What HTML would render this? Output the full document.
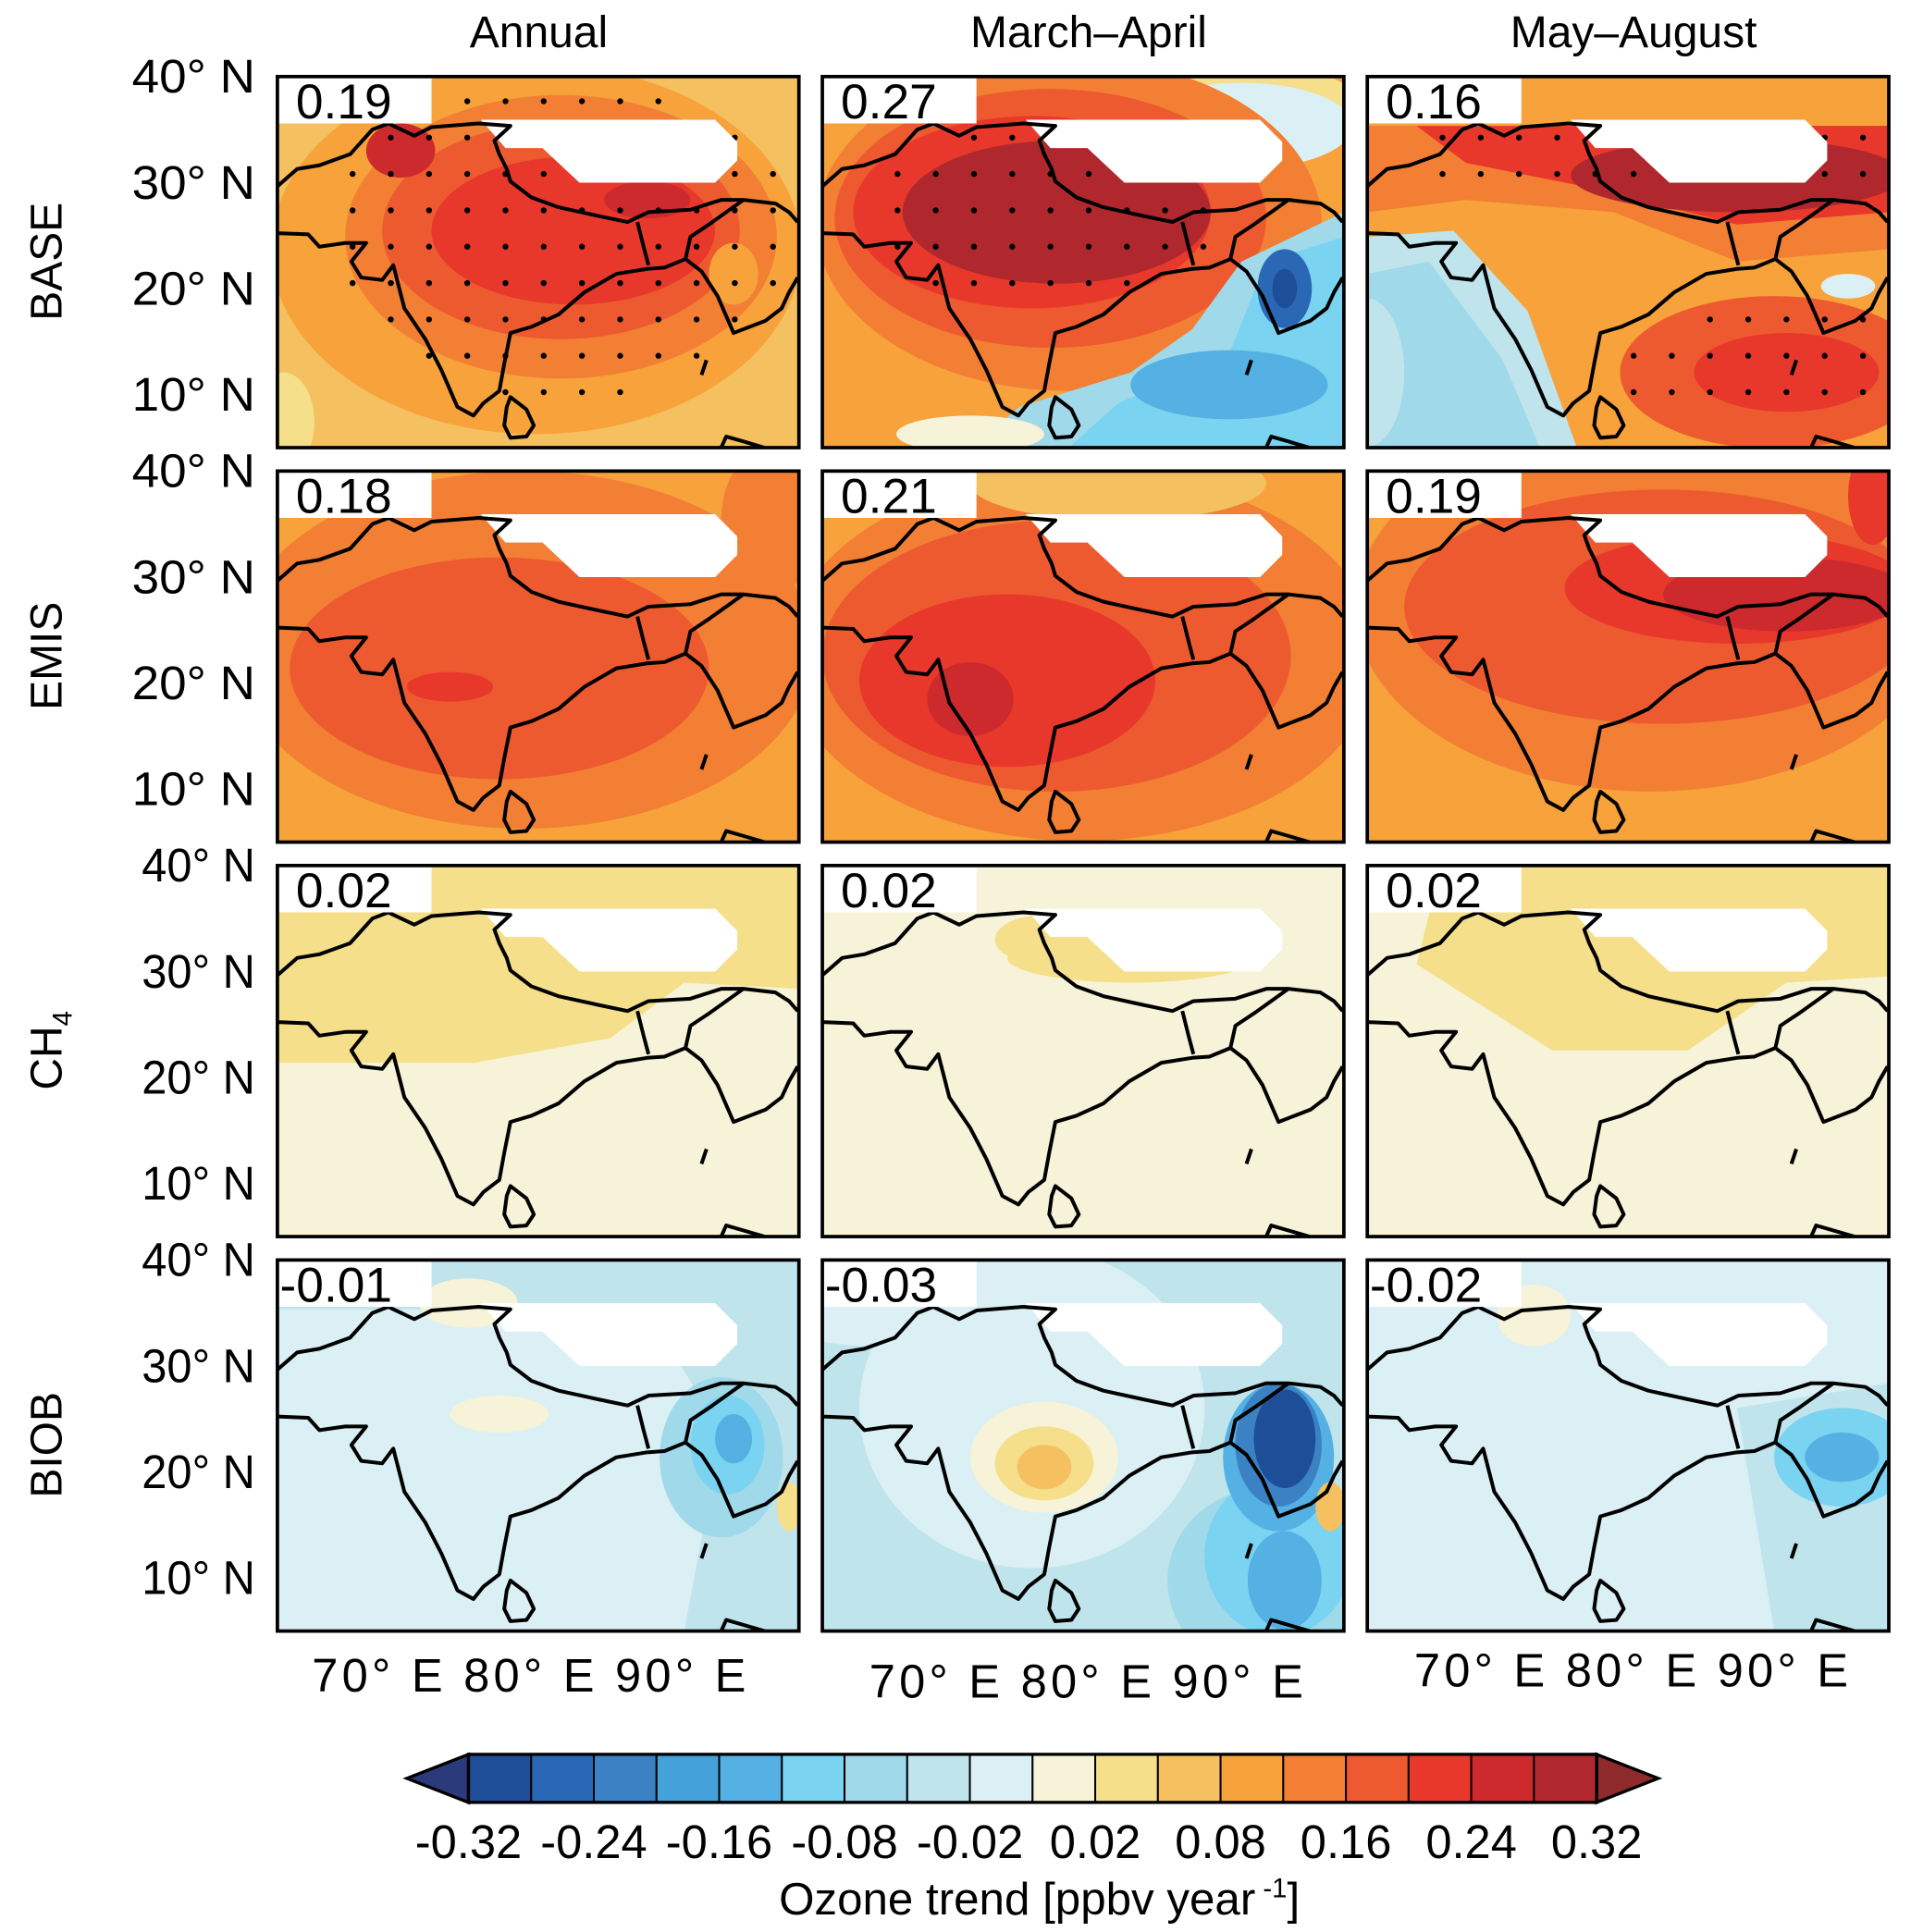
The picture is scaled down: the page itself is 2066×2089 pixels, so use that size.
<!DOCTYPE html>
<html><head><meta charset="utf-8"><style>
html,body{margin:0;padding:0;background:#fff;}
svg{display:block;font-family:"Liberation Sans",Arial,sans-serif;}
</style></head><body>
<svg id="fig" width="2066" height="2089" viewBox="0 0 1550 1567" xmlns="http://www.w3.org/2000/svg">
<defs>
<clipPath id="pc"><rect x="0" y="0" width="423" height="301"/></clipPath>
<g id="coast" fill="none" stroke="#000" stroke-width="3" stroke-linejoin="round">
<path d="M0,89 L16,75 L34,72 L59,63 L77,43 L90,38 L111,48 L125,41 L163,38 L189,40 L176,52 L180,63 L186,75 L189,85 L206,98 L228,106 L260,113 L284,118 L301,110 L335,108 L360,100 L378,100 L404,103 L415,110 L422,118"/>
<path d="M0,127 L25,128 L34,138 L55,135 L72,135 L60,150 L68,163 L85,165 L94,153 L103,188 L120,213 L133,238 L146,268 L159,275 L167,265 L180,255 L184,233 L189,208 L206,203 L228,193 L249,175 L275,160 L300,156 L314,155 L331,148 L344,158 L357,178 L370,208 L396,198 L409,188 L415,175 L422,163"/>
<path d="M292,118 L297,138 L301,153"/>
<path d="M331,148 L335,130 L350,120 L378,100"/>
<path d="M189,260 L202,270 L208,283 L202,292 L189,293 L184,283 L186,268 Z"/>
<path d="M348,230 L344,242"/>
<path d="M360,301 L364,292 L378,296 L395,301"/>
</g>
<path id="maskpoly" d="M165,35 L355,35 L373,53 L373,68 L355,86 L245,86 L215,58 L185,58 Z" fill="#fff"/>
</defs>
<g id="root"></g>
</svg>
<script>
const svg=document.getElementById('root');
const NS='http://www.w3.org/2000/svg';
function el(t,a,p){const e=document.createElementNS(NS,t);for(const k in a)e.setAttribute(k,a[k]);(p||svg).appendChild(e);return e;}
const colX=[225,667,1109];
const rowY=[62,382,702,1022];
const colTitles=['Annual','March–April','May–August'];
const rowTitles=['BASE','EMIS','CH4','BIOB'];
const values=[['0.19','0.27','0.16'],['0.18','0.21','0.19'],['0.02','0.02','0.02'],['-0.01','-0.03','-0.02']];
const cbColors=['#1f4e99','#2a68b5','#3a82c4','#45a1d9','#55b0e3','#7ad3f0','#9fd9ea','#bfe4ec','#daf0f4','#f7f3d8','#f5df8a','#f5c060','#f7a23a','#f27f33','#ee5a2f','#e8382b','#cc2a2d','#b0282e'];
const cbTicks=['-0.32','-0.24','-0.16','-0.08','-0.02','0.02','0.08','0.16','0.24','0.32'];
const fields=[
[{b:'#f5c060',s:[['e',210,140,215,150,'#f7a23a'],['e',230,130,175,115,'#f27f33'],['e',230,125,145,88,'#ee5a2f'],['e',240,125,115,60,'#e8382b'],['e',100,60,28,22,'#cc2a2d'],['e',300,100,35,15,'#cc2a2d'],['e',5,280,25,40,'#f5df8a'],['e',370,160,20,25,'#f7a23a']]},
 {b:'#f7a23a',s:[['e',330,30,110,45,'#f5df8a'],['e',340,40,90,35,'#daf0f4'],['e',200,120,205,135,'#f27f33'],['e',185,115,175,105,'#ee5a2f'],['e',170,110,145,78,'#e8382b'],['e',190,110,125,58,'#b0282e'],['p','120,301 160,268 250,240 300,205 340,150 423,110 423,301','#9fd9ea'],['p','200,301 240,265 330,225 360,150 423,130 423,301','#7ad3f0'],['e',330,250,80,28,'#55b0e3'],['e',375,172,22,32,'#2a68b5'],['e',375,172,10,16,'#1f4e99'],['e',120,290,60,15,'#f7f3d8']]},
 {b:'#f7a23a',s:[['p','0,40 230,40 423,60 423,140 300,150 200,110 80,100 0,110','#f27f33'],['p','40,40 423,40 423,110 300,120 180,90 80,70','#e8382b'],['e',300,80,135,30,'#b0282e'],['p','0,130 70,125 130,190 170,301 0,301','#bfe4ec'],['p','0,160 50,150 110,230 140,301 0,301','#9fd9ea'],['e',0,240,30,60,'#bfe4ec'],['e',330,240,125,62,'#ee5a2f'],['e',340,240,75,32,'#e8382b'],['e',390,170,22,10,'#daf0f4'],['e',10,10,30,20,'#f5c060']]}],
[{b:'#f7a23a',s:[['e',200,145,235,145,'#f27f33'],['e',180,160,170,90,'#ee5a2f'],['e',140,175,35,12,'#e8382b'],['e',400,40,40,60,'#f27f33']]},
 {b:'#f7a23a',s:[['e',210,150,240,150,'#f27f33'],['e',190,150,190,110,'#ee5a2f'],['e',150,170,120,70,'#e8382b'],['e',120,185,35,30,'#cc2a2d'],['e',240,10,120,30,'#f5c060']]},
 {b:'#f7a23a',s:[['e',230,110,240,150,'#f27f33'],['e',240,110,210,95,'#ee5a2f'],['e',300,95,140,45,'#e8382b'],['e',340,100,100,30,'#cc2a2d'],['e',30,15,40,20,'#daf0f4'],['e',410,20,20,40,'#e8382b']]}],
[{b:'#f7f3d8',s:[['p','0,0 423,0 423,100 330,95 270,140 160,160 0,160','#f5df8a']]},
 {b:'#f7f3d8',s:[['e',180,60,40,20,'#f5df8a'],['e',250,75,100,20,'#f5df8a']]},
 {b:'#f7f3d8',s:[['p','60,0 423,0 423,90 340,95 260,150 150,150 40,80','#f5df8a']]}],
[{b:'#daf0f4',s:[['p','0,0 423,0 423,301 0,301','#bfe4ec'],['p','0,40 300,40 360,140 330,301 0,301','#daf0f4'],['e',155,35,40,20,'#f7f3d8'],['e',180,125,40,15,'#f7f3d8'],['e',360,160,50,65,'#9fd9ea'],['e',365,150,30,40,'#7ad3f0'],['e',370,145,15,20,'#55b0e3'],['e',415,200,10,20,'#f5df8a']]},
 {b:'#bfe4ec',s:[['e',170,120,140,130,'#daf0f4'],['e',180,160,60,45,'#f7f3d8'],['e',180,165,40,30,'#f5df8a'],['e',180,168,22,18,'#f5c060'],['e',360,260,80,75,'#9fd9ea'],['e',370,240,60,65,'#7ad3f0'],['e',375,260,30,40,'#55b0e3'],['e',370,160,45,60,'#55b0e3'],['e',370,150,35,50,'#3a82c4'],['e',375,145,25,40,'#1f4e99'],['e',412,200,12,20,'#f5c060'],['e',40,40,80,30,'#daf0f4']]},
 {b:'#daf0f4',s:[['p','300,120 423,100 423,301 330,301','#bfe4ec'],['e',385,160,55,40,'#7ad3f0'],['e',385,160,30,20,'#55b0e3'],['e',135,45,30,25,'#f7f3d8']]}]
];
for(let c=0;c<3;c++){const t=el('text',{x:[437,883,1325][c],y:38,'font-size':36,'text-anchor':'middle'});t.textContent=colTitles[c];

}
for(let r=0;r<4;r++){
 const cy=rowY[r]+150;
 const g=el('text',{transform:`translate(50,${cy}) rotate(-90)`,'font-size':36,'text-anchor':'middle'});
 
 
 if(r===2){g.innerHTML='CH<tspan font-size="22" dy="8">4</tspan>';}else g.textContent=rowTitles[r];
 const lats=['40° N','30° N','20° N','10° N'];
 for(let i=0;i<4;i++){const x0=r<2?107:115;const t=el('text',{x:x0,y:rowY[r]+13+i*86,'font-size':38,textLength:207-x0,lengthAdjust:'spacingAndGlyphs'});t.textContent=lats[i];
 
 }
 for(let c=0;c<3;c++){
  const g=el('g',{transform:`translate(${colX[c]},${rowY[r]})`});
  
  
  const f=fields[r][c];
  const inner=el('g',{'clip-path':'url(#pc)'},g);
  el('rect',{x:0,y:0,width:423,height:301,fill:f.b},inner);
  for(const s of f.s){
   if(s[0]==='e')el('ellipse',{cx:s[1],cy:s[2],rx:s[3],ry:s[4],fill:s[5]},inner);
   else el('polygon',{points:s[1],fill:s[2]},inner);
  }
  if(r===0){
   for(let i=0;i<14;i++)for(let j=0;j<9;j++){
    const x=30+i*31,y=20+j*29.5;
    let ok=false;
    if(c===0){const dx=(x-230)/200,dy=(y-130)/130;ok=dx*dx+dy*dy<1 && !(x<80&&y>180);}
    if(c===1){const dx=(x-180)/140,dy=(y-110)/75;ok=dx*dx+dy*dy<1;}
    if(c===2){const dx=(x-330)/120,dy=(y-240)/55;ok=(dx*dx+dy*dy<1)||(y<80&&y>30&&x>60);}
    if(ok)el('circle',{cx:x,cy:y,r:2.4,fill:'#000'},inner);
   }
  }
  el('use',{href:'#maskpoly'},inner);
  el('use',{href:'#coast'},inner);
  el('rect',{x:0,y:0,width:125,height:38,fill:'#fff'},g);
  const v=el('text',{x:r===3?2:15,y:34,'font-size':40},g);v.textContent=values[r][c];
  
  
  el('rect',{x:0,y:0,width:423,height:301,fill:'none',stroke:'#000','stroke-width':2.8},g);
 }
}
const xl=[[253,1372],[705,1377],[1147,1368]];
for(const p of xl){const t=el('text',{x:p[0],y:p[1],'font-size':38,'xml:space':'preserve',textLength:352,lengthAdjust:'spacing'});t.textContent='70° E  80°  E 90°  E';

}
const cbx0=380,cbx1=1295,cy0=1423,cy1=1462,bw=(cbx1-cbx0)/cbColors.length;
const cb=el('g',{});


el('polygon',{points:`${cbx0},${cy0} ${cbx0},${cy1} 330,${(cy0+cy1)/2}`,fill:'#2b3a7a',stroke:'#000','stroke-width':2.5},cb);
el('polygon',{points:`${cbx1},${cy0} ${cbx1},${cy1} 1345,${(cy0+cy1)/2}`,fill:'#8e2a2b',stroke:'#000','stroke-width':2.5},cb);
cbColors.forEach((col,i)=>{el('rect',{x:cbx0+i*bw,y:cy0,width:bw,height:cy1-cy0,fill:col,stroke:'#000','stroke-width':1.5},cb);});
el('rect',{x:cbx0,y:cy0,width:cbx1-cbx0,height:cy1-cy0,fill:'none',stroke:'#000','stroke-width':2.5},cb);
cbTicks.forEach((t,i)=>{const e=el('text',{x:cbx0+i*2*bw,y:1507,'font-size':38,'text-anchor':'middle'},cb);e.textContent=t;

});
const ct=el('text',{x:843,y:1553,'font-size':37,'text-anchor':'middle'});
ct.innerHTML='Ozone trend [ppbv year<tspan font-size="22" dy="-14"> -1</tspan><tspan dy="14">]</tspan>';


</script>
</body></html>
